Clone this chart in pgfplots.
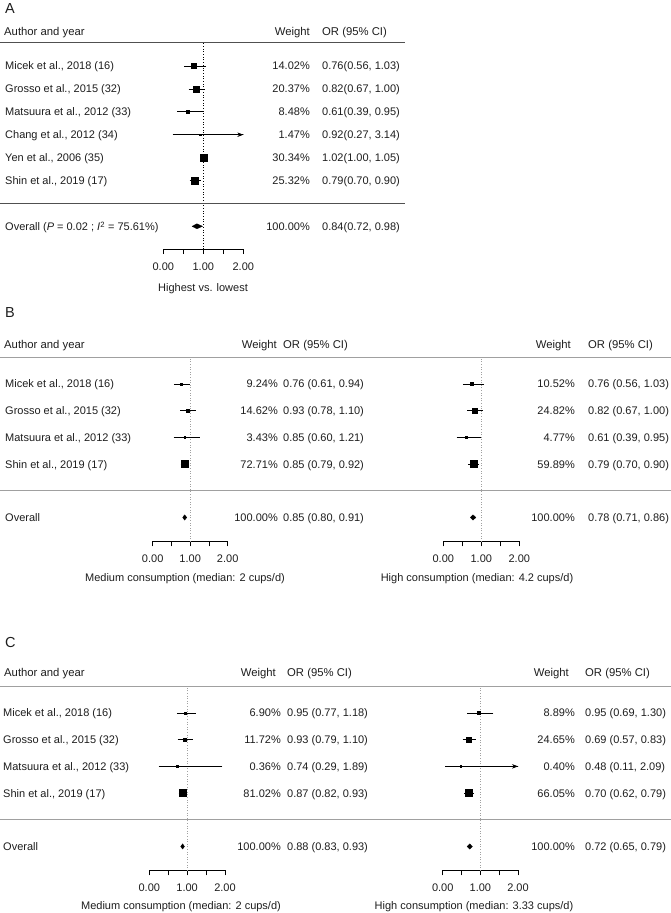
\documentclass[border=0pt]{standalone}
\usepackage{pgfplots}
\pgfplotsset{compat=1.18}
\usepackage{pgfplotstable}
\usepackage{fontspec}
\setmainfont{Liberation Sans}
\usetikzlibrary{arrows.meta}

\definecolor{txt}{HTML}{1E1E1E}
\definecolor{lineA}{HTML}{505050}
\definecolor{lineB}{HTML}{A0A0A0}

% ---------------- data: row, OR, lower, upper, weight ----------------
\pgfplotstableread{
row or lo hi w
1 0.76 0.56 1.03 14.02
2 0.82 0.67 1.00 20.37
3 0.61 0.39 0.95 8.48
4 0.92 0.27 3.14 1.47
5 1.02 1.00 1.05 30.34
6 0.79 0.70 0.90 25.32
}\dataA
\pgfplotstableread{
row or lo hi w
1 0.76 0.61 0.94 9.24
2 0.93 0.78 1.10 14.62
3 0.85 0.60 1.21 3.43
4 0.85 0.79 0.92 72.71
}\dataBl
\pgfplotstableread{
row or lo hi w
1 0.76 0.56 1.03 10.52
2 0.82 0.67 1.00 24.82
3 0.61 0.39 0.95 4.77
4 0.79 0.70 0.90 59.89
}\dataBr
\pgfplotstableread{
row or lo hi w
1 0.95 0.77 1.18 6.90
2 0.93 0.79 1.10 11.72
3 0.74 0.29 1.89 0.36
4 0.87 0.82 0.93 81.02
}\dataCl
\pgfplotstableread{
row or lo hi w
1 0.95 0.69 1.30 8.89
2 0.69 0.57 0.83 24.65
3 0.48 0.11 2.09 0.40
4 0.70 0.62 0.79 66.05
}\dataCr

\newcommand{\fs}{\fontsize{11}{13}\selectfont}
\newcommand{\fh}{\fontsize{11.3}{13}\selectfont}
\newcommand{\Lt}[3]{\node[anchor=base west,inner sep=0pt,text=txt,font=\fs] at (#1,{913-(#2)}) {#3};}
\newcommand{\Rt}[3]{\node[anchor=base east,inner sep=0pt,text=txt,font=\fs] at (#1,{913-(#2)}) {#3};}
\newcommand{\Ct}[3]{\node[anchor=base,inner sep=0pt,text=txt,font=\fs] at (#1,{913-(#2)}) {#3};}
\newcommand{\Lh}[3]{\node[anchor=base west,inner sep=0pt,text=txt,font=\fh] at (#1,{913-(#2)}) {#3};}
\newcommand{\Rh}[3]{\node[anchor=base east,inner sep=0pt,text=txt,font=\fh] at (#1,{913-(#2)}) {#3};}
\newcommand{\Pl}[2]{\node[anchor=base west,inner sep=0pt,text=txt,font=\fontsize{14.5}{16}\selectfont] at (#1,{913-(#2)}) {\Large\relax};}

\pgfplotsset{
  forest/.style={
    scale only axis, anchor=south west,
    xmin=0, xmax=2, ymax=0,
    axis x line*=bottom, axis y line=none,
    xtick={0,0.5,1,1.5,2}, xticklabels={0.00,,1.00,,2.00},
    xtick align=outside, major tick length=5pt,
    every tick/.style={black, line width=0.6pt},
    axis line style={black, line width=0.6pt},
    xticklabel style={font=\fs, text=txt, inner sep=0pt, anchor=north, yshift=-8pt},
    /pgf/number format/assume math mode=true,
    ytick=\empty,
    clip=true,
  },
  study/.style={
    scatter, only marks, mark=square*,
    scatter/use mapped color={draw=black, fill=black},
    visualization depends on={max(#1*sqrt(\thisrow{w}),0.8) \as \msz},
    scatter/@pre marker code/.append style={/tikz/mark size=\msz},
    error bars/.cd, x dir=both, x explicit,
    error bar style={black, line width=0.6pt},
    error mark options={black, mark size=1.6pt, line width=0.6pt},
  },
}

\begin{document}
\begin{tikzpicture}[x=1pt,y=1pt]
\fill[white] (0,0) rectangle (671,913);
\path[use as bounding box] (0,0) rectangle (671,913);

% ======================= Panel A =======================
\begin{axis}[forest, at={(163.3pt,663.8pt)}, width=80pt, height=206.1pt, ymin=-9]
  \addplot[black, dotted, line width=0.7pt] coordinates {(1,-9) (1,0)};
  \addplot[study=0.65] table[x=or, y expr=-\thisrow{row},
     x error plus expr=\thisrow{hi}-\thisrow{or},
     x error minus expr=\thisrow{or}-\thisrow{lo}] {\dataA};
  \addplot[black, line width=0.6pt, -{Stealth[length=6pt,width=4.5pt]}] coordinates {(0.92,-4) (2,-4)};
  \addplot[fill=black, draw=black, line width=0.3pt] coordinates {(0.72,-8) (0.84,-7.89) (0.98,-8) (0.84,-8.11)} -- cycle;
\end{axis}

\node[anchor=base west,inner sep=0pt,text=txt,font=\fontsize{14.5}{16}\selectfont] at (5,{913-13.3}) {A};
\Lh{4}{36}{Author and year}
\Rh{310}{36}{Weight}
\Lh{322}{36}{OR (95\% CI)}
\draw[lineA, line width=0.8pt] (0,{913-42.3}) -- (405,{913-42.3});
\draw[lineA, line width=0.8pt] (0,{913-203.4}) -- (405,{913-203.4});

\Lt{5}{70}{Micek et al., 2018 (16)}      \Rt{310}{70}{14.02\%}   \Lt{322}{70}{0.76(0.56, 1.03)}
\Lt{5}{92.9}{Grosso et al., 2015 (32)}   \Rt{310}{92.9}{20.37\%} \Lt{322}{92.9}{0.82(0.67, 1.00)}
\Lt{5}{115.8}{Matsuura et al., 2012 (33)}\Rt{310}{115.8}{8.48\%} \Lt{322}{115.8}{0.61(0.39, 0.95)}
\Lt{5}{138.7}{Chang et al., 2012 (34)}   \Rt{310}{138.7}{1.47\%} \Lt{322}{138.7}{0.92(0.27, 3.14)}
\Lt{5}{161.6}{Yen et al., 2006 (35)}     \Rt{310}{161.6}{30.34\%}\Lt{322}{161.6}{1.02(1.00, 1.05)}
\Lt{5}{184.5}{Shin et al., 2019 (17)}    \Rt{310}{184.5}{25.32\%}\Lt{322}{184.5}{0.79(0.70, 0.90)}
\Lt{5}{231}{Overall (\textit{P} = 0.02 ; \textit{I}\textsuperscript{2} = 75.61\%)}
\Rt{310}{231}{100.00\%} \Lt{322}{231}{0.84(0.72, 0.98)}
\Ct{203}{292}{Highest vs. lowest}

% ======================= Panel B =======================
\begin{axis}[forest, at={(152.7pt,371.5pt)}, width=75pt, height=184.23pt, ymin=-6.9]
  \addplot[lineB, dotted, line width=0.6pt] coordinates {(1,-6.9) (1,0)};
  \addplot[study=0.41] table[x=or, y expr=-\thisrow{row},
     x error plus expr=\thisrow{hi}-\thisrow{or},
     x error minus expr=\thisrow{or}-\thisrow{lo}] {\dataBl};
  \addplot[fill=black, draw=black, line width=0.3pt] coordinates {(0.80,-6) (0.85,-5.9) (0.91,-6) (0.85,-6.1)} -- cycle;
\end{axis}
\begin{axis}[forest, at={(443.3pt,371.5pt)}, width=76pt, height=184.23pt, ymin=-6.9]
  \addplot[lineB, dotted, line width=0.6pt] coordinates {(1,-6.9) (1,0)};
  \addplot[study=0.46] table[x=or, y expr=-\thisrow{row},
     x error plus expr=\thisrow{hi}-\thisrow{or},
     x error minus expr=\thisrow{or}-\thisrow{lo}] {\dataBr};
  \addplot[fill=black, draw=black, line width=0.3pt] coordinates {(0.71,-6) (0.78,-5.9) (0.86,-6) (0.78,-6.1)} -- cycle;
\end{axis}

\node[anchor=base west,inner sep=0pt,text=txt,font=\fontsize{14.5}{16}\selectfont] at (5,{913-318}) {B};
\Lh{4}{349}{Author and year}
\Rh{277}{349}{Weight}  \Lh{283}{349}{OR (95\% CI)}
\Rh{571}{349}{Weight}  \Lh{588}{349}{OR (95\% CI)}
\draw[lineB, line width=0.8pt] (0,{913-357.5}) -- (671,{913-357.5});
\draw[lineB, line width=0.8pt] (0,{913-490.8}) -- (671,{913-490.8});

\Lt{5}{388}{Micek et al., 2018 (16)}      \Rt{278}{388}{9.24\%}    \Lt{283}{388}{0.76 (0.61, 0.94)}   \Rt{575}{388}{10.52\%}   \Lt{588}{388}{0.76 (0.56, 1.03)}
\Lt{5}{414.7}{Grosso et al., 2015 (32)}   \Rt{278}{414.7}{14.62\%} \Lt{283}{414.7}{0.93 (0.78, 1.10)} \Rt{575}{414.7}{24.82\%} \Lt{588}{414.7}{0.82 (0.67, 1.00)}
\Lt{5}{441.4}{Matsuura et al., 2012 (33)} \Rt{278}{441.4}{3.43\%}  \Lt{283}{441.4}{0.85 (0.60, 1.21)} \Rt{575}{441.4}{4.77\%}  \Lt{588}{441.4}{0.61 (0.39, 0.95)}
\Lt{5}{468.1}{Shin et al., 2019 (17)}     \Rt{278}{468.1}{72.71\%} \Lt{283}{468.1}{0.85 (0.79, 0.92)} \Rt{575}{468.1}{59.89\%} \Lt{588}{468.1}{0.79 (0.70, 0.90)}
\Lt{5}{521.5}{Overall} \Rt{278}{521.5}{100.00\%} \Lt{283}{521.5}{0.85 (0.80, 0.91)} \Rt{575}{521.5}{100.00\%} \Lt{588}{521.5}{0.78 (0.71, 0.86)}
\Ct{185}{582}{Medium consumption (median: 2 cups/d)}
\Ct{477}{582}{High consumption (median: 4.2 cups/d)}

% ======================= Panel C =======================
\begin{axis}[forest, at={(149.3pt,42.5pt)}, width=75.7pt, height=184.23pt, ymin=-6.9]
  \addplot[lineB, dotted, line width=0.6pt] coordinates {(1,-6.9) (1,0)};
  \addplot[study=0.39] table[x=or, y expr=-\thisrow{row},
     x error plus expr=\thisrow{hi}-\thisrow{or},
     x error minus expr=\thisrow{or}-\thisrow{lo}] {\dataCl};
  \addplot[fill=black, draw=black, line width=0.3pt] coordinates {(0.83,-6) (0.88,-5.9) (0.93,-6) (0.88,-6.1)} -- cycle;
\end{axis}
\begin{axis}[forest, at={(442.7pt,42.5pt)}, width=75.3pt, height=184.23pt, ymin=-6.9]
  \addplot[lineB, dotted, line width=0.6pt] coordinates {(1,-6.9) (1,0)};
  \addplot[study=0.43] table[x=or, y expr=-\thisrow{row},
     x error plus expr=\thisrow{hi}-\thisrow{or},
     x error minus expr=\thisrow{or}-\thisrow{lo}] {\dataCr};
  \addplot[black, line width=0.6pt, -{Stealth[length=6pt,width=4.5pt]}] coordinates {(0.48,-3) (2,-3)};
  \addplot[fill=black, draw=black, line width=0.3pt] coordinates {(0.65,-6) (0.72,-5.9) (0.79,-6) (0.72,-6.1)} -- cycle;
\end{axis}

\node[anchor=base west,inner sep=0pt,text=txt,font=\fontsize{14.5}{16}\selectfont] at (5,{913-648}) {C};
\Lh{4}{677}{Author and year}
\Rh{276}{677}{Weight}  \Lh{287}{677}{OR (95\% CI)}
\Rh{569}{677}{Weight}  \Lh{585}{677}{OR (95\% CI)}
\draw[lineB, line width=0.8pt] (0,{913-686.3}) -- (671,{913-686.3});
\draw[lineB, line width=0.8pt] (0,{913-819.8}) -- (671,{913-819.8});

\Lt{3}{717}{Micek et al., 2018 (16)}      \Rt{281}{717}{6.90\%}    \Lt{287}{717}{0.95 (0.77, 1.18)}   \Rt{575}{717}{8.89\%}    \Lt{585}{717}{0.95 (0.69, 1.30)}
\Lt{3}{743.7}{Grosso et al., 2015 (32)}   \Rt{281}{743.7}{11.72\%} \Lt{287}{743.7}{0.93 (0.79, 1.10)} \Rt{575}{743.7}{24.65\%} \Lt{585}{743.7}{0.69 (0.57, 0.83)}
\Lt{3}{770.4}{Matsuura et al., 2012 (33)} \Rt{281}{770.4}{0.36\%}  \Lt{287}{770.4}{0.74 (0.29, 1.89)} \Rt{575}{770.4}{0.40\%}  \Lt{585}{770.4}{0.48 (0.11, 2.09)}
\Lt{3}{797.1}{Shin et al., 2019 (17)}     \Rt{281}{797.1}{81.02\%} \Lt{287}{797.1}{0.87 (0.82, 0.93)} \Rt{575}{797.1}{66.05\%} \Lt{585}{797.1}{0.70 (0.62, 0.79)}
\Lt{3}{850.5}{Overall} \Rt{281}{850.5}{100.00\%} \Lt{287}{850.5}{0.88 (0.83, 0.93)} \Rt{575}{850.5}{100.00\%} \Lt{585}{850.5}{0.72 (0.65, 0.79)}
\Ct{181}{910}{Medium consumption (median: 2 cups/d)}
\Ct{474}{910}{High consumption (median: 3.33 cups/d)}

\end{tikzpicture}
\end{document}
